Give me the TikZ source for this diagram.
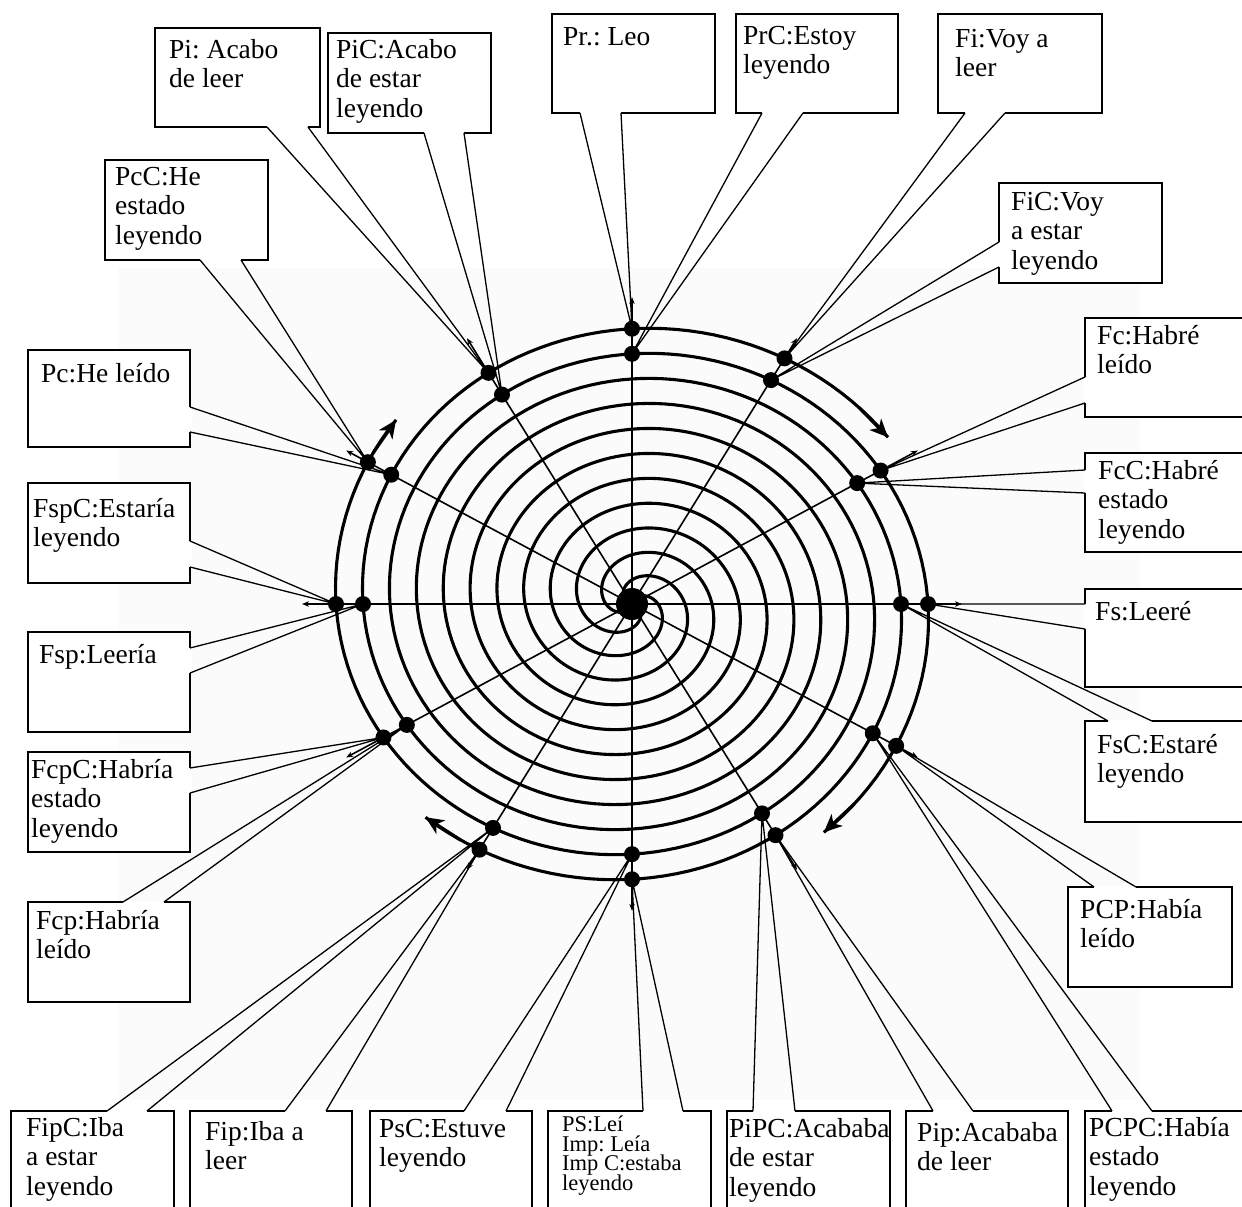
\documentclass[tikz,border=0pt]{standalone}
\usepackage{fontspec}
\setmainfont{Liberation Serif}
\usetikzlibrary{arrows.meta}
\newcommand\myst{\rule{0pt}{21pt}}
\frenchspacing
\begin{document}
\begin{tikzpicture}[x=1pt,y=-1pt,
  box/.style={draw=black, line width=1.6pt, fill=white, inner sep=0pt, outer sep=0pt, anchor=north west},
  txt/.style={anchor=north west, inner sep=0pt, align=left, font=\fontsize{27.5}{29.5}\selectfont},
  small/.style={anchor=north west, inner sep=0pt, align=left, font={\fontsize{22.5}{19.8}\selectfont\lineskiplimit=-30pt}},
  gap/.style={white, line width=3pt},
  wedge/.style={line width=1.3pt, line join=round},
  arm/.style={line width=3.1pt},
  ray/.style={line width=1.6pt, -{Stealth[length=7pt,width=5.5pt]}},
  bigtip/.style={line width=3.1pt, -{Stealth[length=18pt,width=16pt,inset=5pt]}},
  dot/.style={circle, fill=black, inner sep=0pt, minimum size=16pt},
  cdot/.style={circle, fill=black, inner sep=0pt, minimum size=32pt},
]
\useasboundingbox (0,0) rectangle (1242,1207);
\clip (0,0) rectangle (1242,1207);
\fill[black!1.5] (118,268) rectangle (1140,1100);
\coordinate (c0) at (632,604);

% four spiral arms
\draw[arm] plot[domain=35:1060,samples=420,variable=\t] ({632+0.3*(1076.67-\t)*cos(\t)},{604-0.279*(1076.67-\t)*sin(\t)});
\draw[arm] plot[domain=-52:970,samples=420,variable=\t] ({632+0.3*(986.67-\t)*cos(\t)},{604-0.279*(986.67-\t)*sin(\t)});
\draw[arm] plot[domain=-132:880,samples=420,variable=\t] ({632+0.3*(896.67-\t)*cos(\t)},{604-0.279*(896.67-\t)*sin(\t)});
\draw[arm] plot[domain=140:1150,samples=420,variable=\t] ({632+0.3*(1166.67-\t)*cos(\t)},{604-0.279*(1166.67-\t)*sin(\t)});

% arrow heads at the arm ends
\coordinate (aA1) at ({632+0.3*(1076.67-43)*cos(43)},{604-0.279*(1076.67-43)*sin(43)});
\coordinate (aA0) at ({632+0.3*(1076.67-35)*cos(35)},{604-0.279*(1076.67-35)*sin(35)});
\draw[bigtip] (aA1) -- (aA0);
\coordinate (aB1) at ({632+0.3*(986.67+44)*cos(-44)},{604-0.279*(986.67+44)*sin(-44)});
\coordinate (aB0) at ({632+0.3*(986.67+52)*cos(-52)},{604-0.279*(986.67+52)*sin(-52)});
\draw[bigtip] (aB1) -- (aB0);
\coordinate (aC1) at ({632+0.3*(896.67+124)*cos(-124)},{604-0.279*(896.67+124)*sin(-124)});
\coordinate (aC0) at ({632+0.3*(896.67+132)*cos(-132)},{604-0.279*(896.67+132)*sin(-132)});
\draw[bigtip] (aC1) -- (aC0);
\coordinate (aD1) at ({632+0.3*(1166.67-148)*cos(148)},{604-0.279*(1166.67-148)*sin(148)});
\coordinate (aD0) at ({632+0.3*(1166.67-140)*cos(140)},{604-0.279*(1166.67-140)*sin(140)});
\draw[bigtip] (aD1) -- (aD0);

% rays and dots
\foreach \ang/\rad/\nm in {90/296/n,60/305/nne,30/287/ene,0/296/e,-30/305/ese,-60/287/sse,-90/296/s,-120/305/ssw,-150/287/wsw,180/296/w,150/305/wnw,120/287/nnw}{
  \coordinate (t\nm) at ({632+330*cos(\ang)},{604-0.93*330*sin(\ang)});
  \draw[ray] (c0) -- (t\nm);
  \node[dot] (o\nm) at ({632+\rad*cos(\ang)},{604-0.93*\rad*sin(\ang)}) {};
  \node[dot] (i\nm) at ({632+(\rad-27)*cos(\ang)},{604-0.93*(\rad-27)*sin(\ang)}) {};
}
\node[cdot] (c) at (c0) {};

% ---------- callouts ----------
% Pi
\node[box, minimum width=165pt, minimum height=99pt] (pi) at (155,28) {};
\coordinate (pi-a) at (267,127); \coordinate (pi-b) at (308,127);
\draw[gap] (pi-a) -- (pi-b); \draw[wedge] (pi-a) -- (onnw.center) -- (pi-b);
\node[txt] (pi-t) at (169,37) {\myst Pi: Acabo\\de leer};
% PiC
\node[box, minimum width=163pt, minimum height=100pt] (pic) at (328,33) {};
\coordinate (pic-a) at (424,133); \coordinate (pic-b) at (464,133);
\draw[gap] (pic-a) -- (pic-b); \draw[wedge] (pic-a) -- (innw.center) -- (pic-b);
\node[txt] (pic-t) at (336,37) {\myst PiC:Acabo\\de estar\\leyendo};
% PcC
\node[box, minimum width=163pt, minimum height=100pt] (pcc) at (105,160) {};
\coordinate (pcc-a) at (200,260); \coordinate (pcc-b) at (241,260);
\draw[gap] (pcc-a) -- (pcc-b); \draw[wedge] (pcc-a) -- (ownw.center) -- (pcc-b);
\node[txt] (pcc-t) at (115,164) {\myst PcC:He\\estado\\leyendo};
% Pr
\node[box, minimum width=163pt, minimum height=99pt] (pr) at (552,14) {};
\coordinate (pr-a) at (580,113); \coordinate (pr-b) at (621,113);
\draw[gap] (pr-a) -- (pr-b); \draw[wedge] (pr-a) -- (on.center) -- (pr-b);
\node[txt] (pr-t) at (563,24) {\myst Pr.: Leo};
% PrC
\node[box, minimum width=162pt, minimum height=99pt] (prc) at (736,14) {};
\coordinate (prc-a) at (762,113); \coordinate (prc-b) at (803,113);
\draw[gap] (prc-a) -- (prc-b); \draw[wedge] (prc-a) -- (in.center) -- (prc-b);
\node[txt] (prc-t) at (743,23) {\myst PrC:Estoy\\leyendo};
% Fi
\node[box, minimum width=164pt, minimum height=99pt] (fi) at (938,14) {};
\coordinate (fi-a) at (965,113); \coordinate (fi-b) at (1005,113);
\draw[gap] (fi-a) -- (fi-b); \draw[wedge] (fi-a) -- (onne.center) -- (fi-b);
\node[txt] (fi-t) at (955,26) {\myst Fi:Voy a\\leer};
% FiC
\node[box, minimum width=163pt, minimum height=100pt] (fic) at (999,183) {};
\coordinate (fic-a) at (999,242); \coordinate (fic-b) at (999,267);
\draw[gap] (fic-a) -- (fic-b); \draw[wedge] (fic-a) -- (inne.center) -- (fic-b);
\node[txt] (fic-t) at (1011,189) {\myst FiC:Voy\\a estar\\leyendo};
% Fc
\node[box, minimum width=170pt, minimum height=99pt] (fc) at (1085,318) {};
\coordinate (fc-a) at (1085,377); \coordinate (fc-b) at (1085,403);
\draw[gap] (fc-a) -- (fc-b); \draw[wedge] (fc-a) -- (oene.center) -- (fc-b);
\node[txt] (fc-t) at (1097,323) {\myst Fc:Habré\\leído};
% FcC
\node[box, minimum width=170pt, minimum height=99pt] (fcc) at (1085,453) {};
\coordinate (fcc-a) at (1085,470); \coordinate (fcc-b) at (1085,493);
\draw[gap] (fcc-a) -- (fcc-b); \draw[wedge] (fcc-a) -- (iene.center) -- (fcc-b);
\node[txt] (fcc-t) at (1098,458) {\myst FcC:Habré\\estado\\leyendo};
% Fs
\node[box, minimum width=170pt, minimum height=98pt] (fs) at (1085,589) {};
\coordinate (fs-a) at (1085,604); \coordinate (fs-b) at (1085,629);
\draw[gap] (fs-a) -- (fs-b); \draw[wedge] (fs-a) -- (oe.center) -- (fs-b);
\node[txt] (fs-t) at (1095,599) {\myst Fs:Leeré};
% FsC
\node[box, minimum width=170pt, minimum height=101pt] (fsc) at (1085,721) {};
\coordinate (fsc-a) at (1108,721); \coordinate (fsc-b) at (1152,721);
\draw[gap] (fsc-a) -- (fsc-b); \draw[wedge] (fsc-a) -- (ie.center) -- (fsc-b);
\node[txt] (fsc-t) at (1097,732) {\myst FsC:Estaré\\leyendo};
% PCP
\node[box, minimum width=164pt, minimum height=100pt] (pcp) at (1068,887) {};
\coordinate (pcp-a) at (1094,887); \coordinate (pcp-b) at (1136,887);
\draw[gap] (pcp-a) -- (pcp-b); \draw[wedge] (pcp-a) -- (oese.center) -- (pcp-b);
\node[txt] (pcp-t) at (1080,897) {\myst PCP:Había\\leído};
% PCPC
\node[box, minimum width=170pt, minimum height=110pt] (pcpc) at (1085,1111) {};
\coordinate (pcpc-a) at (1112,1111); \coordinate (pcpc-b) at (1152,1111);
\draw[gap] (pcpc-a) -- (pcpc-b); \draw[wedge] (pcpc-a) -- (iese.center) -- (pcpc-b);
\node[txt] (pcpc-t) at (1089,1115) {\myst PCPC:Había\\estado\\leyendo};
% Pip
\node[box, minimum width=162pt, minimum height=110pt] (pip) at (906,1111) {};
\coordinate (pip-a) at (933,1111); \coordinate (pip-b) at (973,1111);
\draw[gap] (pip-a) -- (pip-b); \draw[wedge] (pip-a) -- (osse.center) -- (pip-b);
\node[txt] (pip-t) at (917,1120) {\myst Pip:Acababa\\de leer};
% PiPC
\node[box, minimum width=163pt, minimum height=110pt] (pipc) at (727,1111) {};
\coordinate (pipc-a) at (753,1111); \coordinate (pipc-b) at (795,1111);
\draw[gap] (pipc-a) -- (pipc-b); \draw[wedge] (pipc-a) -- (isse.center) -- (pipc-b);
\node[txt] (pipc-t) at (729,1116) {\myst PiPC:Acababa\\de estar\\leyendo};
% PS
\node[box, minimum width=163pt, minimum height=110pt] (ps) at (548,1111) {};
\coordinate (ps-a) at (643,1111); \coordinate (ps-b) at (683,1111);
\draw[gap] (ps-a) -- (ps-b); \draw[wedge] (ps-a) -- (os.center) -- (ps-b);
\node[small] (ps-t) at (562,1115) {\rule{0pt}{16pt}PS:Leí\\Imp: Leía\\Imp C:estaba\\leyendo};
% PsC
\node[box, minimum width=162pt, minimum height=110pt] (psc) at (370,1111) {};
\coordinate (psc-a) at (464,1111); \coordinate (psc-b) at (506,1111);
\draw[gap] (psc-a) -- (psc-b); \draw[wedge] (psc-a) -- (is.center) -- (psc-b);
\node[txt] (psc-t) at (379,1116) {\myst PsC:Estuve\\leyendo};
% Fip
\node[box, minimum width=162pt, minimum height=110pt] (fip) at (190,1111) {};
\coordinate (fip-a) at (285,1111); \coordinate (fip-b) at (326,1111);
\draw[gap] (fip-a) -- (fip-b); \draw[wedge] (fip-a) -- (ossw.center) -- (fip-b);
\node[txt] (fip-t) at (205,1119) {\myst Fip:Iba a\\leer};
% FipC
\node[box, minimum width=163pt, minimum height=110pt] (fipc) at (11,1111) {};
\coordinate (fipc-a) at (107,1111); \coordinate (fipc-b) at (147,1111);
\draw[gap] (fipc-a) -- (fipc-b); \draw[wedge] (fipc-a) -- (issw.center) -- (fipc-b);
\node[txt] (fipc-t) at (26,1115) {\myst FipC:Iba\\a estar\\leyendo};
% Fcp
\node[box, minimum width=162pt, minimum height=100pt] (fcp) at (28,902) {};
\coordinate (fcp-a) at (123,902); \coordinate (fcp-b) at (164,902);
\draw[gap] (fcp-a) -- (fcp-b); \draw[wedge] (fcp-a) -- (iwsw.center) -- (fcp-b);
\node[txt] (fcp-t) at (36,908) {\myst Fcp:Habría\\leído};
% FcpC
\node[box, minimum width=162pt, minimum height=100pt] (fcpc) at (28,752) {};
\coordinate (fcpc-a) at (190,768); \coordinate (fcpc-b) at (190,793);
\draw[gap] (fcpc-a) -- (fcpc-b); \draw[wedge] (fcpc-a) -- (owsw.center) -- (fcpc-b);
\node[txt] (fcpc-t) at (31,757) {\myst FcpC:Habría\\estado\\leyendo};
% Fsp
\node[box, minimum width=162pt, minimum height=100pt] (fsp) at (28,632) {};
\coordinate (fsp-a) at (190,648); \coordinate (fsp-b) at (190,673);
\draw[gap] (fsp-a) -- (fsp-b); \draw[wedge] (fsp-a) -- (iw.center) -- (fsp-b);
\node[txt] (fsp-t) at (39,642) {\myst Fsp:Leería};
% FspC
\node[box, minimum width=162pt, minimum height=100pt] (fspc) at (28,483) {};
\coordinate (fspc-a) at (190,541); \coordinate (fspc-b) at (190,567);
\draw[gap] (fspc-a) -- (fspc-b); \draw[wedge] (fspc-a) -- (ow.center) -- (fspc-b);
\node[txt] (fspc-t) at (33,496) {\myst FspC:Estaría\\leyendo};
% Pc
\node[box, minimum width=162pt, minimum height=97pt] (pc) at (28,350) {};
\coordinate (pc-a) at (190,407); \coordinate (pc-b) at (190,432);
\draw[gap] (pc-a) -- (pc-b); \draw[wedge] (pc-a) -- (iwnw.center) -- (pc-b);
\node[txt] (pc-t) at (41,361) {\myst Pc:He leído};
\end{tikzpicture}
\end{document}
